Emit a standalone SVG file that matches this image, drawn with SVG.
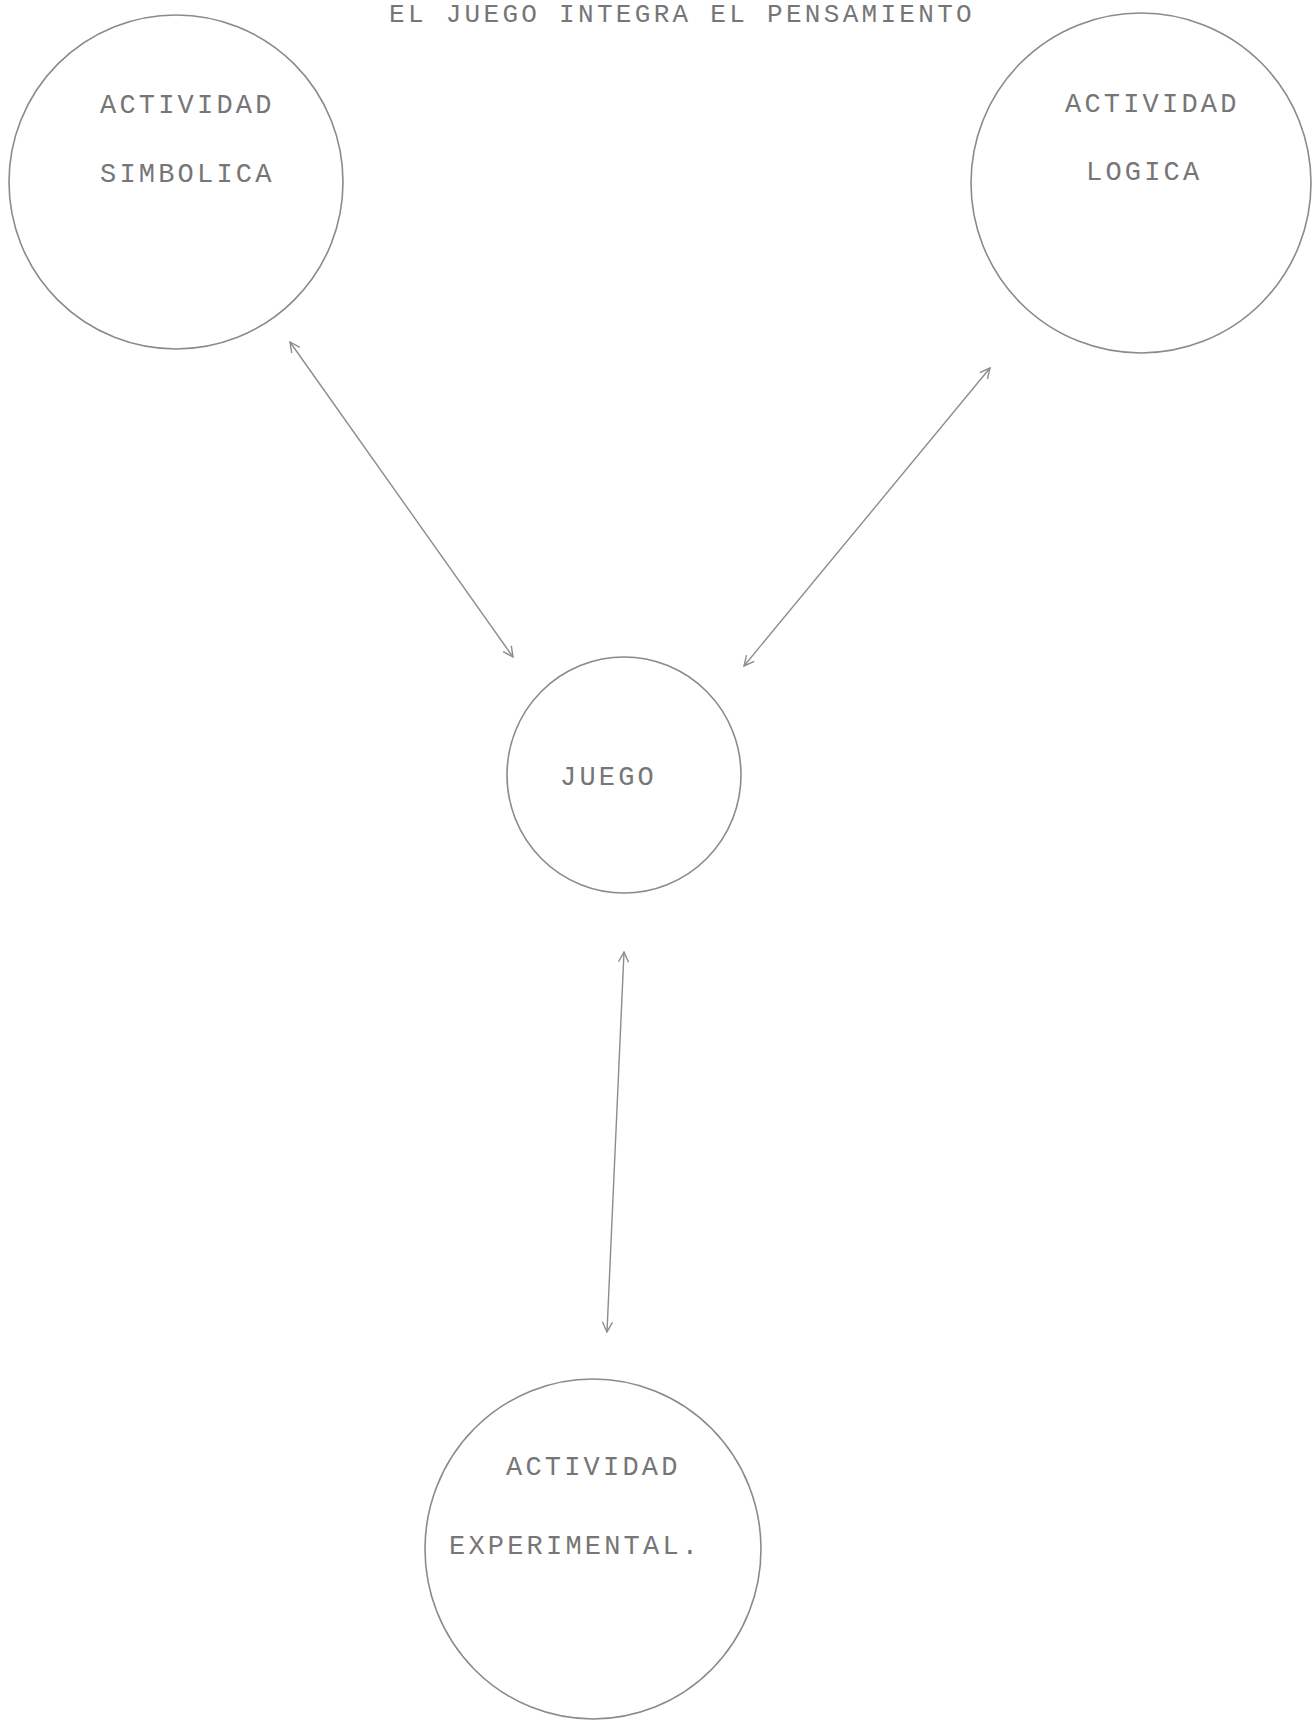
<svg xmlns="http://www.w3.org/2000/svg" width="1313" height="1721" viewBox="0 0 1313 1721">
<style>
.node{fill:none;stroke:#8a8a8a;stroke-width:1.6}
.lbl{font-family:"Liberation Mono","DejaVu Sans Mono",monospace;font-size:27px;letter-spacing:3.2px;fill:#767676}
.title{font-family:"Liberation Mono","DejaVu Sans Mono",monospace;font-size:26px;letter-spacing:3.3px;fill:#767676}
.conn{stroke:#8c8c8c;stroke-width:1.4;fill:none}
</style>
<defs>
<marker id="ah" viewBox="0 0 12 12" refX="11" refY="6" markerWidth="12" markerHeight="12" markerUnits="userSpaceOnUse" orient="auto-start-reverse">
<path d="M1,1 L11,6 L1,11" fill="none" stroke="#8c8c8c" stroke-width="1.4"/>
</marker>
</defs>
<rect width="1313" height="1721" fill="#ffffff"/>
<text class="title" x="389" y="22">EL JUEGO INTEGRA EL PENSAMIENTO</text>
<g id="n-simbolica">
<ellipse class="node" cx="176" cy="182" rx="167" ry="167"/>
<text class="lbl" x="100" y="113">ACTIVIDAD</text>
<text class="lbl" x="100" y="182">SIMBOLICA</text>
</g>
<g id="n-logica">
<ellipse class="node" cx="1141" cy="183" rx="170" ry="170"/>
<text class="lbl" x="1065" y="112">ACTIVIDAD</text>
<text class="lbl" x="1086" y="180">LOGICA</text>
</g>
<g id="n-juego">
<ellipse class="node" cx="624" cy="775" rx="117" ry="118"/>
<text class="lbl" x="560" y="785">JUEGO</text>
</g>
<g id="n-experimental">
<ellipse class="node" cx="593" cy="1549" rx="168" ry="170"/>
<text class="lbl" x="506" y="1475">ACTIVIDAD</text>
<text class="lbl" x="449" y="1554">EXPERIMENTAL.</text>
</g>
<g id="connectors">
<line class="conn" x1="290" y1="342" x2="513" y2="657" marker-start="url(#ah)" marker-end="url(#ah)"/>
<line class="conn" x1="990" y1="368" x2="744" y2="666" marker-start="url(#ah)" marker-end="url(#ah)"/>
<line class="conn" x1="624" y1="952" x2="607" y2="1332" marker-start="url(#ah)" marker-end="url(#ah)"/>
</g>
</svg>
